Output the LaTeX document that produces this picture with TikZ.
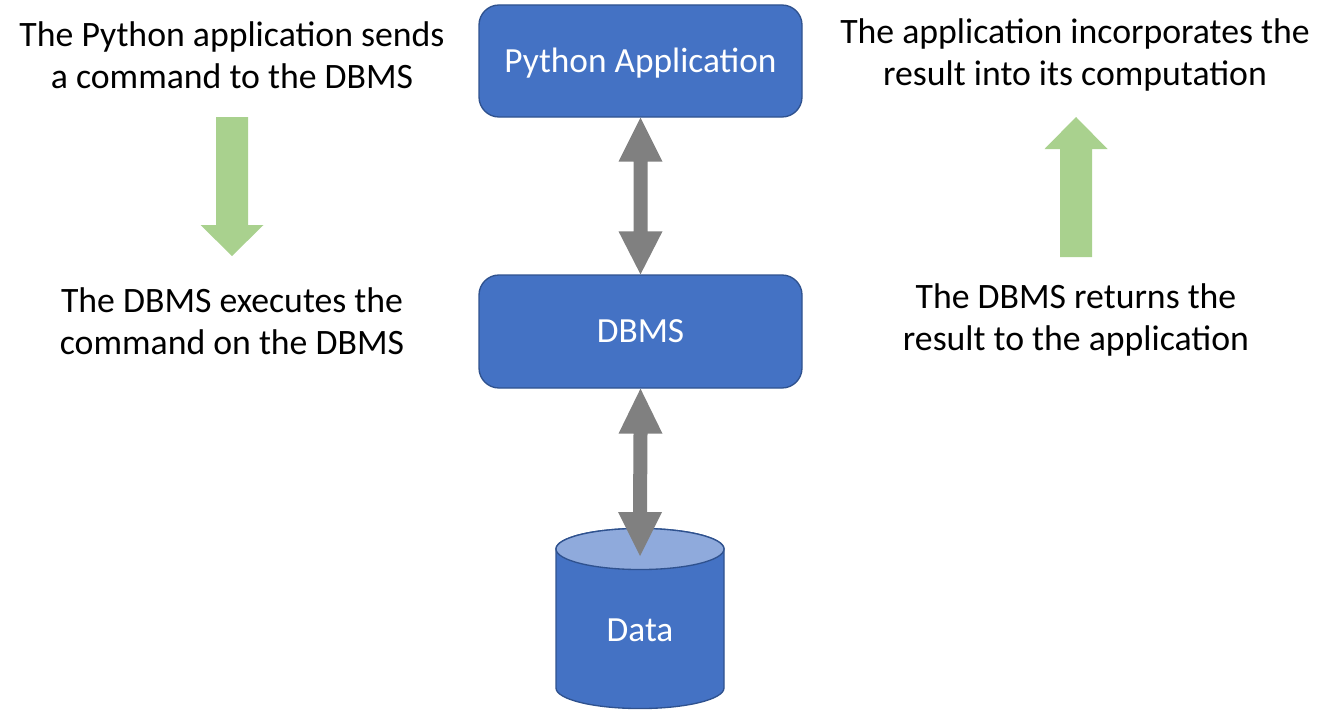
\documentclass[tikz,border=0pt]{standalone}
\usepackage{fontspec}
\setmainfont{Carlito}
\usetikzlibrary{calc}
\definecolor{boxblue}{HTML}{4472C4}
\definecolor{boxedge}{HTML}{2F528F}
\definecolor{toplight}{HTML}{8FAADC}
\definecolor{arrowgray}{HTML}{808080}
\definecolor{arrowgreen}{HTML}{A9D18E}
\begin{document}
\begin{tikzpicture}[x=0.75pt,y=-0.75pt,
  box/.style={draw=boxedge, line width=1pt, fill=boxblue, rounded corners=15pt,
    minimum width=323*0.75pt, text=white, inner sep=0pt,
    font=\fontsize{26.5}{31.5}\selectfont},
  note/.style={align=center, text=black, inner sep=0pt,
    font=\fontsize{26.8}{31.5}\selectfont},
  cyl/.style={draw=boxedge, line width=1pt, fill=boxblue},
  cyltop/.style={draw=boxedge, line width=1pt, fill=toplight},
  grayarrow/.style={fill=arrowgray},
  greenarrow/.style={fill=arrowgreen}]
\useasboundingbox (0,0) rectangle (1338,710);

% boxes
\node[box, minimum height=112*0.75pt, text depth=1pt] (py) at (640.5,61) {Python Application};
\node[box, minimum height=113*0.75pt] (db) at (640.5,331.5) {DBMS};

% cylinder
\draw[cyl] (556,688) arc[start angle=180, end angle=360, x radius=63pt, y radius=15.4pt]
  -- (724,549) arc[start angle=0, end angle=180, x radius=63pt, y radius=15.4pt] -- cycle;
\draw[cyltop] (640,549) ellipse[x radius=63pt, y radius=15.4pt];
\node[text=white, inner sep=0pt, font=\fontsize{26.5}{31.5}\selectfont] (data) at (640,630) {Data};
\coordinate (datatop) at (640,556);

% notes
\node[note] (n1) at (232,55) {The Python application sends\\a command to the DBMS};
\node[note] (n2) at (232,321) {The DBMS executes the\\command on the DBMS};
\node[note] (n3) at (1075,55) {The application incorporates the\\result into its computation};
\node[note] (n4) at (1076,320) {The DBMS returns the\\result to the application};

% gray double arrows
\fill[grayarrow] (py.south) -- ($(py.south)+(22,44)$) -- ($(py.south)+(7,44)$)
  -- ($(db.north)+(7,-43)$) -- ($(db.north)+(22,-43)$) -- (db.north)
  -- ($(db.north)+(-22,-43)$) -- ($(db.north)+(-7,-43)$)
  -- ($(py.south)+(-7,44)$) -- ($(py.south)+(-22,44)$) -- cycle;
\fill[grayarrow] (db.south) -- ($(db.south)+(22,45)$) -- ($(db.south)+(7,45)$)
  -- ($(datatop)+(7,-44)$) -- ($(datatop)+(22,-44)$) -- (datatop)
  -- ($(datatop)+(-22,-44)$) -- ($(datatop)+(-7,-44)$)
  -- ($(db.south)+(-7,45)$) -- ($(db.south)+(-22,45)$) -- cycle;

% green arrows
\coordinate (g1a) at (232,117);
\coordinate (g1b) at (232,256);
\fill[greenarrow] ($(g1a)+(-16,0)$) -- ($(g1a)+(16,0)$) -- ($(g1b)+(16,-31)$)
  -- ($(g1b)+(31.5,-31)$) -- (g1b) -- ($(g1b)+(-31.5,-31)$) -- ($(g1b)+(-16,-31)$) -- cycle;
\coordinate (g2a) at (1076,257);
\coordinate (g2b) at (1076,117);
\fill[greenarrow] ($(g2a)+(-16,0)$) -- ($(g2a)+(16,0)$) -- ($(g2b)+(16,32)$)
  -- ($(g2b)+(31.5,32)$) -- (g2b) -- ($(g2b)+(-31.5,32)$) -- ($(g2b)+(-16,32)$) -- cycle;
\end{tikzpicture}
\end{document}
